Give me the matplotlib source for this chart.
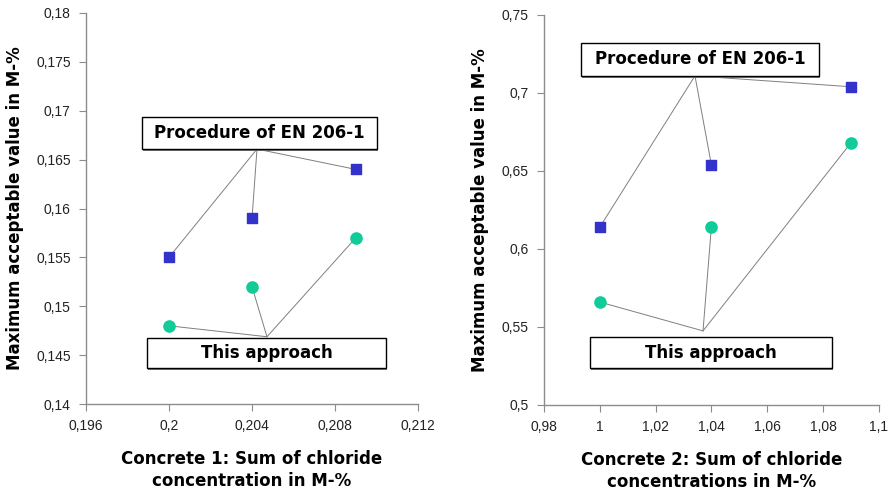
import matplotlib
matplotlib.use("Agg")
import matplotlib.pyplot as plt
from matplotlib.patches import Rectangle
from matplotlib.ticker import FuncFormatter, MultipleLocator

# concrete 1
c1_x = [0.200, 0.204, 0.209]
c1_en206 = [0.155, 0.159, 0.164]
c1_approach = [0.148, 0.152, 0.157]

# concrete 2
c2_x = [1.00, 1.04, 1.09]
c2_en206 = [0.614, 0.654, 0.704]
c2_approach = [0.566, 0.614, 0.668]

label_en206 = "Procedure of EN 206-1"
label_approach = "This approach"
ylabel = "Maximum acceptable value in M-%"
xlabel1 = "Concrete 1: Sum of chloride\nconcentration in M-%"
xlabel2 = "Concrete 2: Sum of chloride\nconcentrations in M-%"

SQ_COLOR = "#3333cc"
CI_COLOR = "#11cc99"
LINE_COLOR = "#7f7f7f"

comma = FuncFormatter(lambda v, p: ("%g" % round(v, 6)).replace(".", ","))


def style_axes(ax):
    for s in ["top", "right"]:
        ax.spines[s].set_visible(False)
    for s in ["left", "bottom"]:
        ax.spines[s].set_color("#8c8c8c")
        ax.spines[s].set_linewidth(1.0)
    ax.tick_params(direction="out", length=5, color="#8c8c8c", labelsize=10,
                   labelcolor="#222222", pad=6, labelfontfamily="Liberation Sans")
    ax.xaxis.set_major_formatter(comma)
    ax.yaxis.set_major_formatter(comma)


def callout(ax, text, box, anchor, xs, ys):
    # box = (x0, y0, w, h) in axes fraction
    ax.add_patch(Rectangle((box[0] + 0.003, box[1] - 0.005), box[2], box[3],
                           transform=ax.transAxes, facecolor="#777777",
                           edgecolor="none", zorder=4, clip_on=False))
    ax.add_patch(Rectangle((box[0], box[1]), box[2], box[3], transform=ax.transAxes,
                           facecolor="white", edgecolor="black", linewidth=1.0,
                           zorder=5, clip_on=False))
    ax.text(box[0] + box[2] / 2, box[1] + box[3] / 2, text, transform=ax.transAxes,
            ha="center", va="center", fontsize=12, fontweight="bold", zorder=6)
    for x, y in zip(xs, ys):
        ax.annotate("", xy=(x, y), xycoords="data", xytext=anchor,
                    textcoords="axes fraction",
                    arrowprops=dict(arrowstyle="-", color=LINE_COLOR, lw=0.7,
                                    shrinkA=0, shrinkB=0), zorder=2)


fig = plt.figure(figsize=(8.88, 5.0), dpi=100)
ax1 = fig.add_axes([0.0968, 0.192, 0.374, 0.782])
ax2 = fig.add_axes([0.6126, 0.19, 0.377, 0.78])

# left chart
ax1.scatter(c1_x, c1_en206, marker="s", s=60, color=SQ_COLOR, zorder=3)
ax1.scatter(c1_x, c1_approach, marker="o", s=65, color=CI_COLOR, zorder=3)
ax1.set_xlim(0.196, 0.212)
ax1.set_ylim(0.14, 0.18)
ax1.xaxis.set_major_locator(MultipleLocator(0.004))
ax1.yaxis.set_major_locator(MultipleLocator(0.005))
style_axes(ax1)
callout(ax1, label_en206, (0.169, 0.652, 0.708, 0.082), (0.515, 0.652), c1_x, c1_en206)
callout(ax1, label_approach, (0.184, 0.092, 0.720, 0.077), (0.545, 0.172), c1_x, c1_approach)
ax1.set_xlabel(xlabel1, fontsize=12, fontweight="bold", labelpad=12, linespacing=1.3)
ax1.set_ylabel(ylabel, fontsize=12, fontweight="bold", labelpad=9)

# right chart
ax2.scatter(c2_x, c2_en206, marker="s", s=60, color=SQ_COLOR, zorder=3)
ax2.scatter(c2_x, c2_approach, marker="o", s=65, color=CI_COLOR, zorder=3)
ax2.set_xlim(0.98, 1.10)
ax2.set_ylim(0.5, 0.75)
ax2.xaxis.set_major_locator(MultipleLocator(0.02))
ax2.yaxis.set_major_locator(MultipleLocator(0.05))
style_axes(ax2)
callout(ax2, label_en206, (0.110, 0.844, 0.711, 0.084), (0.451, 0.844), c2_x, c2_en206)
callout(ax2, label_approach, (0.137, 0.095, 0.723, 0.079), (0.475, 0.190), c2_x, c2_approach)
ax2.set_xlabel(xlabel2, fontsize=12, fontweight="bold", labelpad=12, linespacing=1.3)
ax2.set_ylabel(ylabel, fontsize=12, fontweight="bold", labelpad=9)

fig.savefig("out.png", dpi=100)
